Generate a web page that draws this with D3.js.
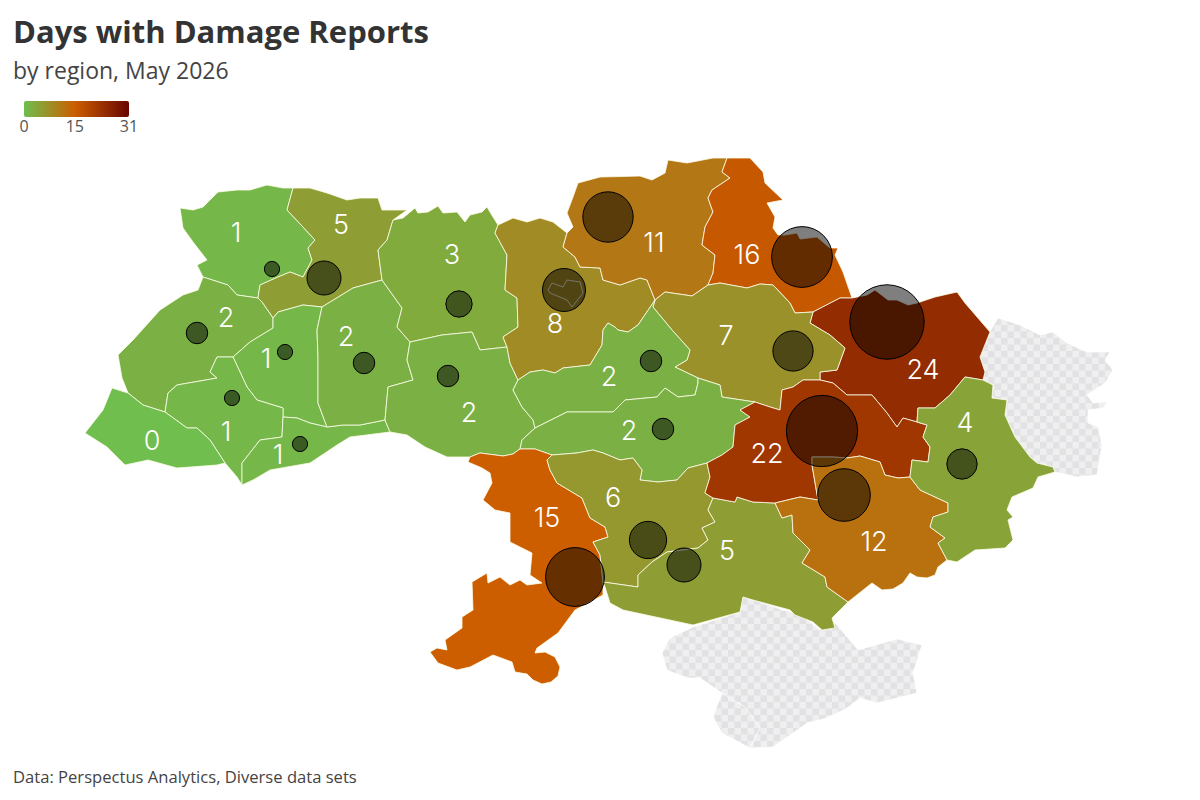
<!DOCTYPE html>
<html>
<head>
<meta charset="utf-8">
<script src="https://cdn.jsdelivr.net/npm/d3@7"></script>
<style>
  body { margin: 0; background: #fff; }
  text { font-family: "Open Sans", sans-serif; }
</style>
</head>
<body>
<svg id="chart" width="1200" height="800"></svg>
<script>
var regionNames = ['Volyn', 'Rivne', 'Lviv', 'Ternopil', 'Ivano-Frankivsk', 'Zakarpattia', 'Chernivtsi', 'Khmelnytskyi',
  'Zhytomyr', 'Vinnytsia', 'Kyiv', 'Chernihiv', 'Sumy', 'Kharkiv', 'Poltava', 'Cherkasy', 'Kirovohrad',
  'Odesa', 'Mykolaiv', 'Kherson', 'Dnipropetrovsk', 'Zaporizhzhia', 'Donetsk'];
var regionDays = [1, 5, 2, 1, 1, 0, 1, 2, 3, 2, 8, 11, 16, 24, 7, 2, 2, 15, 6, 5, 22, 12, 4];
var legendTicks = [0, 15, 31];

// outlines, in map units, shared between neighbours
var borders = {
  volynCoast: [[203,277],[197,265],[207,260],[193,242],[183,228],[180,208],[193,210],[203,207],[218,192],[237,190],[250,190],[267,185],[283,188],[293,188]],
  volRiv: [[293,188],[287,210],[303,227],[315,240],[308,248],[312,260],[303,277],[290,272],[278,277],[260,285],[258,298]],
  volLviv: [[258,298],[237,295],[228,285],[203,277]],
  rivneCoast: [[293,188],[310,188],[327,193],[347,200],[360,198],[378,198],[382,210],[407,210],[393,220]],
  rivZhy: [[393,220],[387,240],[378,250],[382,280]],
  rivKhm: [[382,280],[353,288],[322,307]],
  rivTer: [[322,307],[303,305],[278,312],[273,318]],
  rivLviv: [[273,318],[262,302],[258,298]],
  lvivTer: [[273,318],[273,328],[250,342],[233,357]],
  lvivIf: [[233,357],[217,357],[210,372],[217,378],[177,385],[168,393],[165,412]],
  lvivZak: [[165,412],[143,405],[128,393]],
  lvivCoast: [[128,393],[122,378],[118,355],[133,340],[160,310],[183,295],[198,290],[203,277]],
  terKhm: [[322,307],[317,330],[318,357],[318,403],[327,427]],
  terChe: [[327,427],[310,423],[297,418],[283,417]],
  terIf: [[283,417],[283,408],[257,400],[247,387],[233,357]],
  ifChe: [[283,417],[282,437],[260,440],[242,463],[242,485]],
  ifCoast: [[242,485],[237,477],[225,463]],
  ifZak: [[225,463],[210,440],[197,428],[187,428],[165,412]],
  zakCoast: [[225,463],[217,465],[177,468],[148,460],[125,465],[107,447],[85,433],[103,410],[112,388],[128,393]],
  cheKhm: [[327,427],[343,425],[360,425],[385,420]],
  cheVin: [[385,420],[390,432]],
  cheCoast: [[390,432],[350,437],[337,445],[310,463],[270,470],[253,480],[242,485]],
  khmZhy: [[382,280],[402,308],[397,327],[410,342]],
  khmVin: [[410,342],[407,360],[413,380],[388,387],[385,420]],
  zhyCoast: [[393,220],[403,218],[415,208],[418,213],[428,212],[438,206],[443,213],[457,212],[465,222],[470,215],[482,212],[487,207],[493,217],[498,225]],
  zhyKyi: [[498,225],[495,233],[507,255],[505,290],[517,298],[518,327],[503,337],[507,347]],
  zhyVin: [[507,347],[480,350],[472,332],[442,335],[410,342]],
  vinKyi: [[507,347],[510,363],[518,380]],
  vinChk: [[518,380],[513,390],[522,407],[533,420],[535,428]],
  vinKir: [[535,428],[522,440],[520,449]],
  vinOde: [[520,449],[513,454],[503,456],[480,453],[470,457]],
  vinCoast: [[470,457],[447,457],[425,447],[407,435],[390,432]],
  kyiCoast: [[498,225],[513,218],[527,222],[540,218],[553,222],[567,233]],
  kyiChn: [[567,233],[563,247],[575,257],[580,267],[600,268],[603,280],[620,285],[640,278],[647,280],[655,300]],
  kyiChk: [[655,300],[638,325],[628,332],[618,330],[615,327],[608,323],[603,330],[602,345],[590,365],[563,368],[555,373],[543,370],[530,372],[518,380]],
  chnCoast: [[567,233],[573,227],[567,213],[573,197],[578,183],[600,177],[640,176],[652,180],[665,173],[668,160],[687,163],[713,158],[727,158]],
  chnSum: [[727,158],[722,172],[730,178],[712,190],[708,198],[713,212],[705,227],[702,245],[715,255],[713,273],[708,285]],
  chnPol: [[708,285],[692,296],[665,292],[655,300]],
  sumCoast: [[727,158],[750,158],[763,172],[765,183],[783,200],[767,203],[775,217],[773,228],[778,235],[785,235],[797,233],[800,239],[817,237],[830,248],[838,248],[835,255],[843,272],[852,298]],
  sumKhk: [[852,298],[840,298],[813,312]],
  sumPol: [[813,312],[795,313],[790,303],[773,285],[760,284],[747,288],[720,283],[708,285]],
  khkCoast: [[852,298],[867,295],[875,290],[888,300],[897,300],[908,305],[917,303],[935,297],[957,292],[965,303],[990,332],[980,357],[985,372],[983,380]],
  khkDon: [[983,380],[965,377],[950,395],[935,408],[918,408],[917,422]],
  khkDni: [[917,422],[903,418],[897,427],[887,413],[872,395],[847,395],[833,383],[820,380]],
  khkPol: [[820,380],[820,372],[837,370],[845,348],[830,335],[810,323],[813,312]],
  polDni: [[820,380],[803,380],[793,387],[782,390],[780,410],[770,407],[755,402]],
  polKir: [[755,402],[722,397],[720,385],[698,378]],
  polChk: [[698,378],[675,367],[687,360],[690,350],[672,330],[653,307],[655,300]],
  chkKir: [[535,428],[567,412],[613,412],[625,400],[657,397],[665,388],[678,397],[695,395],[698,383],[698,378]],
  kirOde: [[520,449],[535,449],[552,455]],
  kirMyk: [[552,455],[577,453],[593,450],[603,453],[620,460],[633,458],[642,470],[640,480],[658,482],[677,480],[688,468],[707,463]],
  kirDni: [[707,463],[722,455],[733,447],[735,425],[750,417],[740,410],[755,402]],
  odeMyk: [[552,455],[547,460],[550,470],[557,483],[582,498],[590,518],[605,527],[608,537],[593,542],[600,555],[603,582]],
  odeCoast: [[603,582],[603,595],[575,610],[558,633],[537,648],[535,653],[545,652],[555,657],[560,667],[558,676],[551,682],[542,684],[533,680],[527,674],[515,672],[512,662],[493,655],[470,667],[457,670],[438,663],[430,652],[437,648],[447,650],[445,640],[462,628],[462,617],[473,610],[472,582],[487,573],[488,583],[500,577],[510,585],[520,580],[527,585],[542,583],[530,575],[532,553],[510,542],[510,513],[495,510],[483,500],[492,483],[490,473],[482,468],[468,462],[470,457]],
  mykDni: [[707,463],[710,477],[705,493],[713,498]],
  mykKhe: [[713,498],[708,510],[715,522],[702,528],[708,540],[698,548],[667,552],[652,562],[638,575],[638,587],[603,582]],
  kheDni: [[713,498],[735,502],[737,497],[753,502],[775,503]],
  kheZap: [[775,503],[782,518],[792,515],[793,533],[810,550],[802,563],[825,577],[827,587],[848,602]],
  kheCoast: [[848,602],[832,618],[835,628],[822,630],[813,622],[795,615],[790,610],[753,600],[743,597],[740,612],[693,625],[623,610],[610,603],[605,587],[603,582]],
  donDni: [[917,422],[927,425],[923,437],[930,447],[928,462],[912,460],[910,477]],
  dniZap: [[910,477],[898,478],[885,475],[880,462],[860,456],[847,458],[833,457],[812,457],[812,465],[818,500],[800,497],[775,503]],
  zapDon: [[910,477],[920,490],[948,503],[948,512],[933,517],[930,527],[945,538],[938,543],[947,560]],
  zapCoast: [[947,560],[938,567],[935,575],[927,578],[917,577],[910,573],[903,583],[893,589],[882,590],[872,583],[848,602]],
  donCoast: [[983,380],[993,385],[992,398],[1007,400],[1005,415],[1015,437],[1030,457],[1037,463],[1053,467],[1055,472],[1038,477],[1033,488],[1012,497],[1007,510],[1013,517],[1008,520],[1013,540],[1005,548],[975,550],[957,562],[947,560]]
};

// same order as regionNames
var regionRings = [
  ['volynCoast', 'volRiv', 'volLviv'],
  ['rivneCoast', 'rivZhy', 'rivKhm', 'rivTer', 'rivLviv', '-volRiv'],
  ['-volLviv', '-rivLviv', 'lvivTer', 'lvivIf', 'lvivZak', 'lvivCoast'],
  ['-rivTer', 'terKhm', 'terChe', 'terIf', '-lvivTer'],
  ['-lvivIf', '-terIf', 'ifChe', 'ifCoast', 'ifZak'],
  ['-lvivZak', '-ifZak', 'zakCoast'],
  ['-ifChe', '-terChe', 'cheKhm', 'cheVin', 'cheCoast'],
  ['-rivKhm', 'khmZhy', 'khmVin', '-cheKhm', '-terKhm'],
  ['zhyCoast', 'zhyKyi', 'zhyVin', '-khmZhy', '-rivZhy'],
  ['-zhyVin', 'vinKyi', 'vinChk', 'vinKir', 'vinOde', 'vinCoast', '-cheVin', '-khmVin'],
  ['kyiCoast', 'kyiChn', 'kyiChk', '-vinKyi', '-zhyKyi'],
  ['chnCoast', 'chnSum', 'chnPol', '-kyiChn'],
  ['sumCoast', 'sumKhk', 'sumPol', '-chnSum'],
  ['khkCoast', 'khkDon', 'khkDni', 'khkPol', '-sumKhk'],
  ['-chnPol', '-sumPol', '-khkPol', 'polDni', 'polKir', 'polChk'],
  ['kyiChk', 'vinChk', 'chkKir', 'polChk'],
  ['-chkKir', 'vinKir', 'kirOde', 'kirMyk', 'kirDni', 'polKir'],
  ['-vinOde', 'kirOde', 'odeMyk', 'odeCoast'],
  ['kirMyk', 'mykDni', 'mykKhe', '-odeMyk'],
  ['-mykKhe', 'kheDni', 'kheZap', 'kheCoast'],
  ['-polDni', '-khkDni', 'donDni', 'dniZap', '-kheDni', '-mykDni', 'kirDni'],
  ['-dniZap', 'zapDon', 'zapCoast', '-kheZap'],
  ['-zapDon', '-donDni', '-khkDon', 'donCoast']
];

var labelAnchors = [[236,232],[341,224],[226,317],[266,358],[226,431],[152,440],[278,454],[346,336],[452,254],[469,412],[555,323],[654,242],[747,254],[923,369],[726,335],[609,376],[629,430],[547,517],[613,497],[727,550],[767,453],[874,541],[965,422]];
var bubbleAnchors = [[272,269],[324,278],[197,333],[285,352],[232,398],[0,0],[300,444],[364,363],[459,304],[448,376],[564,290],[608,217],[802,257],[887,322],[793,351],[651,361],[663,429],[575,577],[648,540],[684,565],[822,431],[844,495],[962,464]];

var kyivCity = [[548,290],[552,283],[563,287],[567,280],[580,282],[583,293],[572,307],[567,300],[550,293],[548,290]];
var luhansk = [[983,380],[985,372],[980,357],[985,340],[998,318],[1020,325],[1040,335],[1053,332],[1067,343],[1087,352],[1110,352],[1105,360],[1113,370],[1105,383],[1087,395],[1093,403],[1107,402],[1103,408],[1088,410],[1088,423],[1098,427],[1102,445],[1097,475],[1077,477],[1055,472],[1053,467],[1037,463],[1030,457],[1015,437],[1005,415],[1007,400],[992,398],[993,385],[983,380]];
var crimea = [[743,597],[740,612],[693,627],[670,638],[662,653],[667,670],[687,678],[700,678],[722,693],[713,717],[722,733],[750,748],[773,747],[807,723],[827,718],[847,708],[860,698],[877,703],[917,693],[913,673],[922,645],[897,639],[858,650],[833,620],[820,630],[810,622],[797,613],[783,610],[763,603],[743,597]];
var sevastopol = [[722,693],[728,697],[745,707],[760,728],[750,748],[722,733],[713,717],[722,693]];

var svg = d3.select('#chart');

var color = d3.scaleLinear().domain(legendTicks).range(['#6fbe4e', '#cc5e00', '#670500']);
var radius = d3.scaleSqrt().domain([0, 31]).range([0, 42.3]);
var legendX = d3.scaleLinear().domain([0, 31]).range([24, 129]);

var path = d3.geoPath(d3.geoIdentity());

var ringOf = function(names) {
  var ring = [];
  names.forEach(function(name) {
    var arc = name[0] === '-' ? borders[name.slice(1)].slice().reverse() : borders[name];
    ring = ring.concat(ring.length ? arc.slice(1) : arc);
  });
  return ring;
};

var regions = regionNames.map(function(name, i) {
  return {
    name: name,
    days: regionDays[i],
    geometry: { type: 'Polygon', coordinates: [ringOf(regionRings[i])] },
    label: labelAnchors[i],
    bubble: bubbleAnchors[i]
  };
});

// PATTERN
var defs = svg.append('defs');
var pattern = defs.append('pattern')
  .attr('id', 'no-data')
  .attr('patternUnits', 'userSpaceOnUse')
  .attr('width', 13)
  .attr('height', 13);
pattern.append('rect').attr('width', 13).attr('height', 13).attr('fill', '#efeff0');
pattern.selectAll('rect.cell')
  .data([[0, 0], [6.5, 6.5]])
  .enter().append('rect')
  .attr('class', 'cell')
  .attr('x', function(d) { return d[0]; })
  .attr('y', function(d) { return d[1]; })
  .attr('width', 6.5)
  .attr('height', 6.5)
  .attr('fill', '#e2e2e5');

var gradient = defs.append('linearGradient').attr('id', 'legend-gradient');
gradient.selectAll('stop')
  .data(legendTicks)
  .enter().append('stop')
  .attr('offset', function(d) { return d / 31; })
  .attr('stop-color', function(d) { return color(d); });

// MAP
var noData = [crimea, sevastopol, luhansk];
svg.append('g').selectAll('path')
  .data(noData)
  .enter().append('path')
  .attr('d', function(d) { return path({ type: 'Polygon', coordinates: [d] }); })
  .attr('fill', 'url(#no-data)')
  .attr('stroke', '#fff')
  .attr('stroke-width', 0.7);

svg.append('g').selectAll('path')
  .data(regions)
  .enter().append('path')
  .attr('d', function(d) { return path(d.geometry); })
  .attr('fill', function(d) { return color(d.days); })
  .attr('stroke', '#fdfde8')
  .attr('stroke-width', 0.8)
  .attr('stroke-linejoin', 'round');

svg.append('path')
  .attr('d', path({ type: 'Polygon', coordinates: [kyivCity] }))
  .attr('fill', color(8))
  .attr('stroke', '#fff')
  .attr('stroke-width', 0.8);

// BUBBLES
svg.append('g').selectAll('circle')
  .data(regions.filter(function(d) { return d.days > 0; }))
  .enter().append('circle')
  .attr('cx', function(d) { return d.bubble[0]; })
  .attr('cy', function(d) { return d.bubble[1]; })
  .attr('r', function(d) { return radius(d.days); })
  .attr('fill', 'rgba(0,0,0,0.5)')
  .attr('stroke', '#000')
  .attr('stroke-width', 1);

// LABELS
svg.append('g').selectAll('text')
  .data(regions)
  .enter().append('text')
  .attr('x', function(d) { return d.label[0]; })
  .attr('y', function(d) { return d.label[1]; })
  .attr('dy', '0.36em')
  .attr('text-anchor', 'middle')
  .attr('fill', '#fff')
  .style('font-family', 'Inter, sans-serif')
  .style('font-weight', 300)
  .style('font-size', '27px')
  .text(function(d) { return d.days; });

// TITLES
svg.append('text').attr('x', 13).attr('y', 43).attr('fill', '#333')
  .style('font-size', '31px').style('font-weight', 700).text('Days with Damage Reports');
svg.append('text').attr('x', 13).attr('y', 79).attr('fill', '#444')
  .style('font-size', '23px').text('by region, May 2026');
svg.append('text').attr('x', 13).attr('y', 783).attr('fill', '#444')
  .style('font-size', '16.6px').text('Data: Perspectus Analytics, Diverse data sets');

// LEGEND
svg.append('rect')
  .attr('x', legendX(0))
  .attr('y', 101)
  .attr('width', legendX(31) - legendX(0))
  .attr('height', 16)
  .attr('rx', 2)
  .attr('fill', 'url(#legend-gradient)');

svg.append('g').selectAll('text')
  .data(legendTicks)
  .enter().append('text')
  .attr('x', function(d) { return legendX(d); })
  .attr('y', 132)
  .attr('text-anchor', 'middle')
  .attr('fill', '#555')
  .style('font-size', '16px')
  .text(function(d) { return d; });
</script>
</body>
</html>
